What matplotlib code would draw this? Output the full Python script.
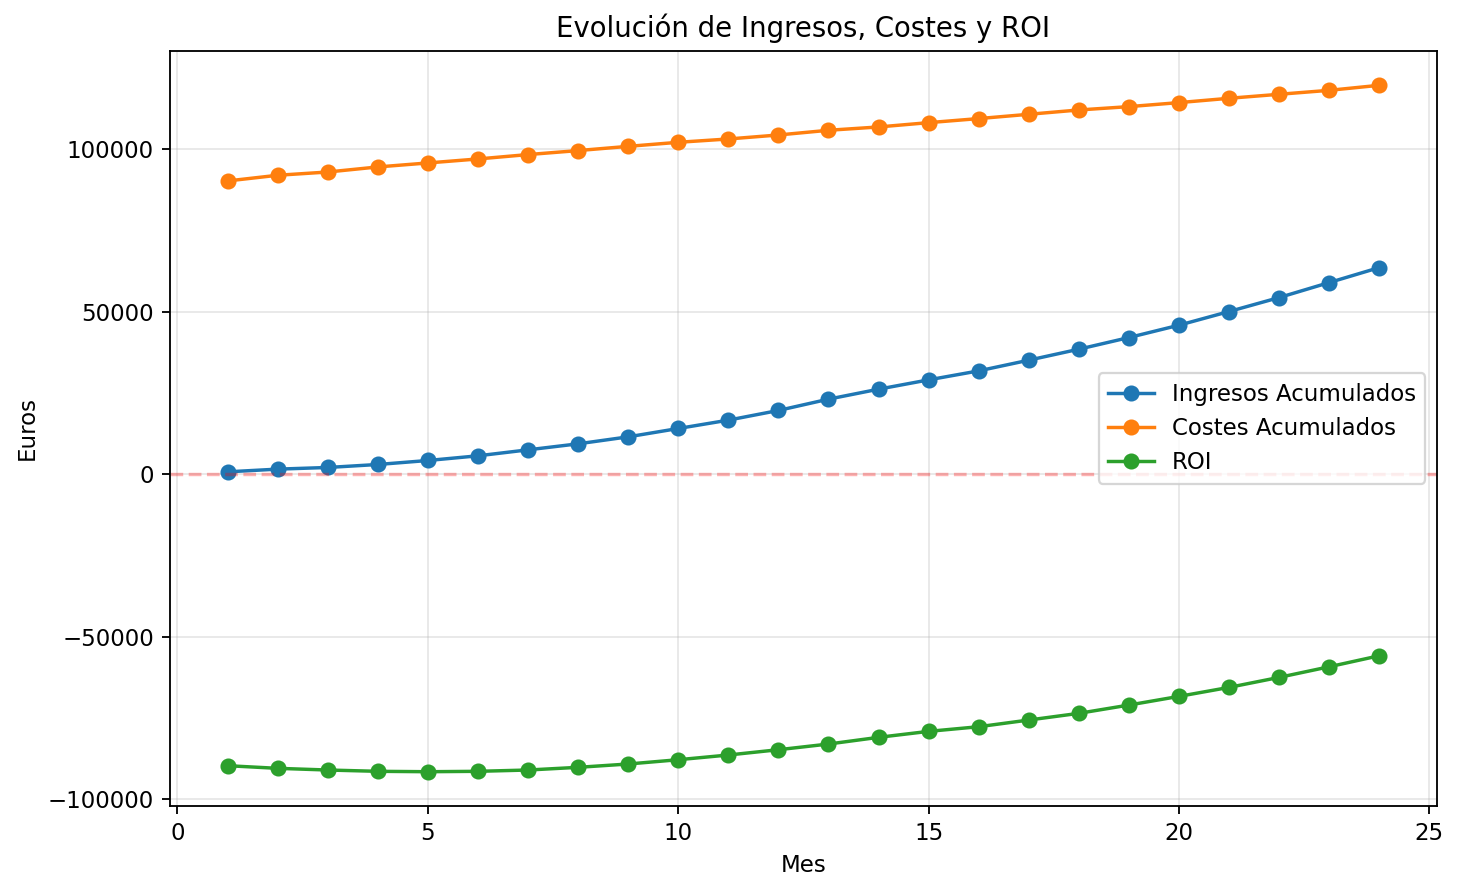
import matplotlib
matplotlib.use("Agg")
import matplotlib.pyplot as plt

meses = list(range(1, 25))

ingresos_acumulados = [
    710, 1540, 2050, 2970, 4200, 5640, 7480, 9330, 11480, 14050, 16620, 19600,
    23080, 26150, 29020, 31790, 35080, 38460, 42050, 45850, 50060, 54360, 58980, 63590,
]
costes_acumulados = [
    90250, 92000, 93000, 94560, 95790, 97020, 98370, 99600, 100900, 102150, 103170, 104400,
    105850, 106870, 108200, 109450, 110770, 112100, 113130, 114370, 115700, 116930, 118150, 119700,
]
roi = [
    -89750, -90560, -91080, -91480, -91600, -91480, -91080, -90250, -89230, -87910, -86460, -84830,
    -83080, -81020, -79180, -77750, -75690, -73630, -71080, -68410, -65640, -62560, -59290, -55900,
]

DPI = 165


def main():
    fig = plt.figure(figsize=(1460 / DPI, 894 / DPI), dpi=DPI)
    ax = fig.add_axes([0.1164, 0.0984, 0.8678, 0.8446])

    ax.plot(meses, ingresos_acumulados, marker="o", label="Ingresos Acumulados")
    ax.plot(meses, costes_acumulados, marker="o", label="Costes Acumulados")
    ax.plot(meses, roi, marker="o", label="ROI")
    ax.axhline(0, color="r", linestyle="--", alpha=0.3)

    ax.set_title("Evolución de Ingresos, Costes y ROI")
    ax.set_xlabel("Mes")
    ax.set_ylabel("Euros")
    ax.grid(True, alpha=0.3)
    ax.legend(loc="center right")

    fig.savefig("out.png", dpi=DPI)


if __name__ == "__main__":
    main()
